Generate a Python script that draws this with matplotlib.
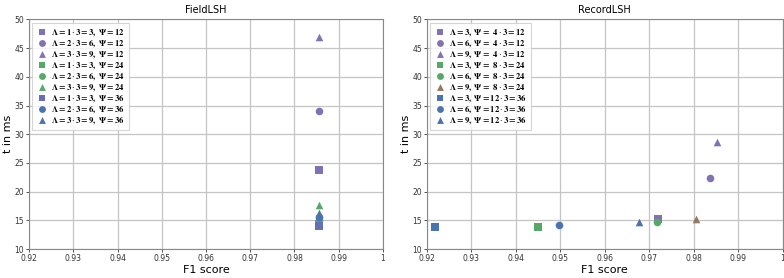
import matplotlib
matplotlib.use('Agg')
import matplotlib.pyplot as plt

plt.rcParams['mathtext.fontset'] = 'stix'
plt.rcParams['font.family'] = 'DejaVu Sans'

# FieldLSH: F1 score and time per configuration
field_labels = [
    r'$\mathbf{\Lambda = 1}\cdot\mathbf{3 = 3,\ \Psi = 12}$',
    r'$\mathbf{\Lambda = 2}\cdot\mathbf{3 = 6,\ \Psi = 12}$',
    r'$\mathbf{\Lambda = 3}\cdot\mathbf{3 = 9,\ \Psi = 12}$',
    r'$\mathbf{\Lambda = 1}\cdot\mathbf{3 = 3,\ \Psi = 24}$',
    r'$\mathbf{\Lambda = 2}\cdot\mathbf{3 = 6,\ \Psi = 24}$',
    r'$\mathbf{\Lambda = 3}\cdot\mathbf{3 = 9,\ \Psi = 24}$',
    r'$\mathbf{\Lambda = 1}\cdot\mathbf{3 = 3,\ \Psi = 36}$',
    r'$\mathbf{\Lambda = 2}\cdot\mathbf{3 = 6,\ \Psi = 36}$',
    r'$\mathbf{\Lambda = 3}\cdot\mathbf{3 = 9,\ \Psi = 36}$',
]
field_f1 = [0.9855, 0.9855, 0.9855, 0.9855, 0.9855, 0.9855, 0.9855, 0.9855, 0.9855]
field_t = [23.8, 34.1, 47.0, 14.3, 15.0, 17.6, 14.1, 15.6, 16.2]
field_colors = ['#8172B3', '#8172B3', '#8172B3', '#55A868', '#55A868', '#55A868',
                '#6470B0', '#4C72B0', '#4C72B0']

# RecordLSH
record_labels = [
    r'$\mathbf{\Lambda = 3,\ \Psi =\enspace 4}\cdot\mathbf{3 = 12}$',
    r'$\mathbf{\Lambda = 6,\ \Psi =\enspace 4}\cdot\mathbf{3 = 12}$',
    r'$\mathbf{\Lambda = 9,\ \Psi =\enspace 4}\cdot\mathbf{3 = 12}$',
    r'$\mathbf{\Lambda = 3,\ \Psi =\enspace 8}\cdot\mathbf{3 = 24}$',
    r'$\mathbf{\Lambda = 6,\ \Psi =\enspace 8}\cdot\mathbf{3 = 24}$',
    r'$\mathbf{\Lambda = 9,\ \Psi =\enspace 8}\cdot\mathbf{3 = 24}$',
    r'$\mathbf{\Lambda = 3,\ \Psi = 12}\cdot\mathbf{3 = 36}$',
    r'$\mathbf{\Lambda = 6,\ \Psi = 12}\cdot\mathbf{3 = 36}$',
    r'$\mathbf{\Lambda = 9,\ \Psi = 12}\cdot\mathbf{3 = 36}$',
]
record_f1 = [0.972, 0.9837, 0.9852, 0.945, 0.9717, 0.9805, 0.9219, 0.9498, 0.9677]
record_t = [15.2, 22.4, 28.6, 13.8, 14.7, 15.2, 13.9, 14.2, 14.8]
record_colors = ['#8172B3', '#8172B3', '#8172B3', '#55A868', '#55A868', '#937860',
                 '#4C72B0', '#4C72B0', '#4C72B0']

markers = ['s', 'o', '^', 's', 'o', '^', 's', 'o', '^']

xticks = [0.92, 0.93, 0.94, 0.95, 0.96, 0.97, 0.98, 0.99, 1.0]
yticks = [10, 15, 20, 25, 30, 35, 40, 45, 50]

fig = plt.figure(figsize=(7.84, 2.78), dpi=100)
ax1 = fig.add_axes([0.037, 0.104, 0.4515, 0.826])
ax2 = fig.add_axes([0.5446, 0.104, 0.4535, 0.826])


def draw(ax, f1, t, labels, colors, title):
    for x, y, lab, c, m in zip(f1, t, labels, colors, markers):
        ax.scatter(x, y, s=30, marker=m, color=c, label=lab, zorder=3, linewidths=0)
    ax.set_xlim(0.92, 1.0)
    ax.set_ylim(10, 50)
    ax.set_xticks(xticks)
    ax.set_xticklabels(['%g' % v for v in xticks])
    ax.set_yticks(yticks)
    ax.grid(True, color='#c4c4c4', linewidth=0.9)
    ax.set_axisbelow(True)
    for s in ax.spines.values():
        s.set_color('#888888')
        s.set_linewidth(0.8)
    ax.tick_params(labelsize=5.5, length=2, width=0.6, pad=1.5, colors='#333333')
    ax.set_title(title, fontsize=7, pad=5)
    ax.set_xlabel('F1 score', fontsize=8, labelpad=1.5)
    ax.set_ylabel('t in ms', fontsize=8, labelpad=1)
    leg = ax.legend(loc='upper left', fontsize=6.2, frameon=True, fancybox=False,
                    handletextpad=0.4, borderpad=0.45, labelspacing=0.0,
                    handlelength=1.3, borderaxespad=0.4, markerscale=0.9)
    leg.get_frame().set_edgecolor('#cccccc')
    leg.get_frame().set_linewidth(0.8)


draw(ax1, field_f1, field_t, field_labels, field_colors, 'FieldLSH')
draw(ax2, record_f1, record_t, record_labels, record_colors, 'RecordLSH')

fig.savefig('out.png', dpi=100)
